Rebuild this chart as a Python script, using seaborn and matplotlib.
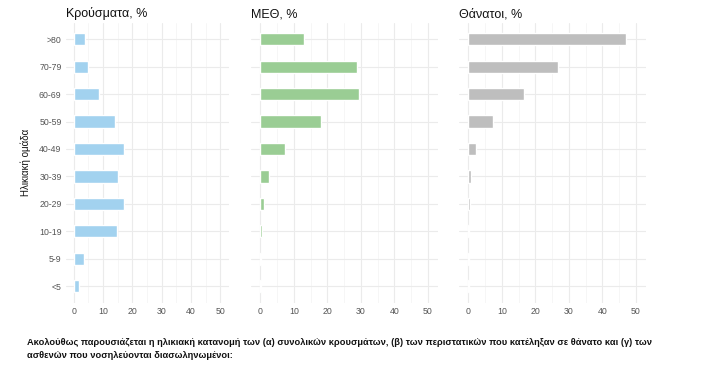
import pandas as pd
import matplotlib.pyplot as plt
import matplotlib.ticker as mticker
import seaborn as sns

# Age groups (top to bottom as shown)
age_groups = ['>80', '70-79', '60-69', '50-59', '40-49', '30-39', '20-29', '10-19', '5-9', '<5']

# Percentages
cases = [3.9, 4.9, 8.6, 14.1, 17.2, 15.1, 17.2, 14.9, 3.5, 1.8]
icu = [13.0, 28.9, 29.5, 18.1, 7.4, 2.6, 1.1, 0.4, 0.2, 0.1]
deaths = [47.0, 26.7, 16.6, 7.4, 2.3, 0.8, 0.4, 0.2, 0.05, 0.1]

titles = ['Κρούσματα, %', 'ΜΕΘ, %', 'Θάνατοι, %']
colors = ['#a2d2ef', '#9acd94', '#bebebe']
caption = ('Ακολούθως παρουσιάζεται η ηλικιακή κατανομή των (α) συνολικών κρουσμάτων, '
           '(β) των περιστατικών που κατέληξαν σε θάνατο και (γ) των\n'
           'ασθενών που νοσηλεύονται διασωληνωμένοι:')

df = pd.DataFrame({'age': age_groups, 'cases': cases, 'icu': icu, 'deaths': deaths})

sns.set_theme(style='whitegrid')
plt.rcParams['font.family'] = ['Liberation Sans', 'DejaVu Sans']

fig = plt.figure(figsize=(7.02, 3.74), dpi=100)
positions = [
    [0.0937, 0.191, 0.2325, 0.748],
    [0.358, 0.191, 0.2658, 0.748],
    [0.6543, 0.191, 0.2658, 0.748],
]

for i, col in enumerate(['cases', 'icu', 'deaths']):
    ax = fig.add_axes(positions[i])
    sns.barplot(data=df, x=col, y='age', order=age_groups, color=colors[i],
                width=0.45, orient='h', ax=ax, saturation=1)
    ax.set_xlim(-2.7, 53)
    ax.set_ylim(9.6, -0.6)
    ax.xaxis.set_major_locator(mticker.MultipleLocator(10))
    ax.xaxis.set_minor_locator(mticker.MultipleLocator(5))
    ax.grid(which='major', color='#ebebeb', linewidth=0.8)
    ax.grid(which='minor', axis='x', color='#f3f3f3', linewidth=0.5)
    ax.set_axisbelow(True)
    for s in ax.spines.values():
        s.set_visible(False)
    ax.tick_params(axis='both', which='both', length=0, labelsize=6.3, colors='#555555', pad=3)
    ax.set_xlabel('')
    ax.set_title(titles[i], loc='left', fontsize=9, color='#111111', pad=4)
    if i == 0:
        ax.set_ylabel('Ηλικιακή ομάδα', fontsize=7, color='#111111', labelpad=6)
    else:
        ax.set_ylabel('')
        ax.set_yticklabels([])

fig.text(0.038, 0.066, caption, fontsize=6.7, fontweight='bold', color='#111111',
         family=['Liberation Sans', 'DejaVu Sans'], va='center', linespacing=1.6)

fig.savefig('out.png', dpi=100)
